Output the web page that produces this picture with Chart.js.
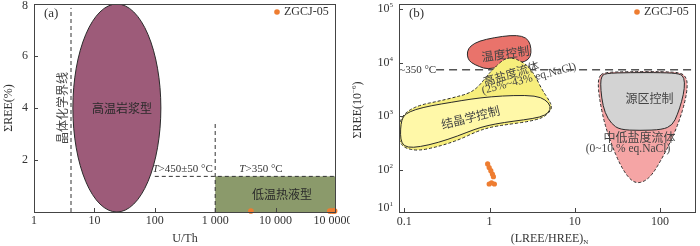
<!DOCTYPE html>
<html>
<head>
<meta charset="utf-8">
<script src="https://cdn.jsdelivr.net/npm/chart.js@4"></script>
<style>
  html, body { margin: 0; padding: 0; background: #fff; }
  #wrap { position: relative; width: 700px; height: 246px; }
  .panel { position: absolute; top: 0; width: 350px; height: 246px; }
</style>
</head>
<body>
<div id="wrap">
  <div class="panel" style="left:0"><canvas id="chartA" width="350" height="246"></canvas></div>
  <div class="panel" style="left:350px"><canvas id="chartB" width="350" height="246"></canvas></div>
</div>
<script>
// ---------- panel (a): U/Th vs ΣREE(%) ----------
const uThTicks = [1, 10, 100, 1000, 10000, 100000];
const uThLabels = ['1', '10', '100', '1 000', '10 000', '10 0000'];
const reeTicksA = [2, 4, 6, 8];
const sampleUth = [3900, 79000, 85000, 91000, 95000];
const sampleReeA = [0.04, 0.04, 0.04, 0.04, 0.04];
const magmaUth = [4.4, 126];        // high-temp magmatic ellipse extent
const magmaRee = [0, 8];
const hydroUth = [1000, 100000];    // low-temp hydrothermal box
const hydroRee = [0, 1.37];
const crystalLineUth = 4.1;
const crystalLineRee = [0, 7.85];
const line1000Ree = [0, 3.47];
const tempStepUth = [100, 100000];

// ---------- panel (b): (LREE/HREE)N vs ΣREE(10^-6) ----------
const lhTicks = [0.1, 1, 10, 100];
const lhLabels = ['0.1', '1', '10', '100'];
const reeTicksB = [16.2, 100, 1000, 10000, 100000];
const reeExpB = ['1', '2', '3', '4', '5'];
const sampleLH = [0.95, 0.99, 1.035, 1.08, 1.11, 0.99, 1.055, 1.14];
const sampleReeB = [128, 110, 96, 83, 74, 54, 57, 54];
const tempLineRee = 7400;
const tempLineLH = [0.236, 264];

const tempControl = [[0.555, 12020], [0.545, 16000], [0.596, 20650], [0.758, 25500], [1.13, 29400],
  [1.77, 32500], [2.42, 31600], [2.89, 26300], [3.08, 18400], [3.03, 12900], [2.64, 10400],
  [1.94, 9720], [1.355, 8430], [0.948, 7530], [0.758, 8430], [0.607, 10000]];
const highSalinity = [[1.62, 12380], [1.355, 10430], [1.13, 7850], [0.99, 6340], [0.83, 4450],
  [0.694, 3250], [0.555, 2630], [0.388, 2250], [0.249, 1900], [0.159, 1645], [0.116, 1330],
  [0.0948, 1000], [0.0867, 681], [0.0851, 457], [0.0891, 321], [0.102, 252], [0.146, 225],
  [0.249, 270], [0.425, 354], [0.725, 527], [1.036, 625], [1.62, 701], [2.77, 785], [4.25, 931],
  [5.16, 1240], [5.40, 1530], [4.94, 2040], [4.13, 3120], [3.46, 5510], [2.89, 8430],
  [2.31, 10740], [1.94, 12020]];
const crystalControl = [[0.1037, 1104], [0.133, 1330], [0.208, 1578], [0.355, 1815], [0.607, 2094],
  [1.036, 2313], [1.94, 2450], [3.46, 2415], [4.52, 2040], [5.26, 1530], [4.94, 1153],
  [3.95, 958], [2.53, 855], [1.48, 764], [0.948, 671], [0.663, 566], [0.425, 427], [0.249, 321],
  [0.152, 267], [0.109, 259], [0.0931, 308], [0.0898, 457], [0.0915, 721], [0.0957, 931]];
const lowSalinity = [[21.5, 6620], [44, 6810], [107, 6810], [175, 6530], [204, 5270], [210, 3590],
  [197, 1900], [168, 807], [134, 344], [107, 169], [82.2, 83.2], [65.8, 60], [51.7, 55.8],
  [42.1, 72.1], [33.7, 127], [26.9, 299], [22.5, 701], [20, 1645], [18.8, 3350], [19, 5270]];
const sourceControl = [[22.5, 6340], [44, 6530], [107, 6530], [171, 6250], [192, 5270], [194, 3350],
  [180, 1900], [160, 1074], [140, 681], [107, 560], [57.5, 540], [33.7, 560], [26.9, 721],
  [22.5, 1153], [20.6, 2190], [20, 4140], [20.6, 5510]];

const SERIF = '"Liberation Serif", "DejaVu Serif", serif';
const CJK = '"Noto Sans CJK SC", sans-serif';
const DOT = '#ee7d31';
const INK = '#333';

// draw text made of pieces (for italic T, subscripts, superscripts)
function richText(ctx, x, y, parts, align) {
  let w = 0;
  parts.forEach(p => { ctx.font = p.f; p.w = ctx.measureText(p.t).width; w += p.w; });
  let cx = align === 'center' ? x - w / 2 : align === 'right' ? x - w : x;
  ctx.textAlign = 'left';
  ctx.textBaseline = 'middle';
  parts.forEach(p => { ctx.font = p.f; ctx.fillText(p.t, cx, y + (p.dy || 0)); cx += p.w; });
}

function label(ctx, text, x, y, font, angle) {
  ctx.save();
  ctx.translate(x, y);
  ctx.rotate((angle || 0) * Math.PI / 180);
  ctx.font = font;
  ctx.textAlign = 'center';
  ctx.textBaseline = 'middle';
  ctx.fillText(text, 0, 0);
  ctx.restore();
}

function smoothShape(ctx, pts) {
  const n = pts.length;
  const mid = (p, q) => [(p[0] + q[0]) / 2, (p[1] + q[1]) / 2];
  const m0 = mid(pts[n - 1], pts[0]);
  ctx.beginPath();
  ctx.moveTo(m0[0], m0[1]);
  for (let i = 0; i < n; i++) {
    const m = mid(pts[i], pts[(i + 1) % n]);
    ctx.quadraticCurveTo(pts[i][0], pts[i][1], m[0], m[1]);
  }
  ctx.closePath();
}

function drawRegion(chart, data, fill, dashed) {
  const { ctx, scales: { x, y } } = chart;
  const pts = data.map(d => [x.getPixelForValue(d[0]), y.getPixelForValue(d[1])]);
  smoothShape(ctx, pts);
  ctx.fillStyle = fill;
  ctx.fill();
  ctx.setLineDash(dashed ? [3, 2] : []);
  ctx.strokeStyle = '#2a2a2a';
  ctx.lineWidth = 1;
  ctx.stroke();
  ctx.setLineDash([]);
}

function seg(ctx, x1, y1, x2, y2) {
  ctx.beginPath();
  ctx.moveTo(x1, y1);
  ctx.lineTo(x2, y2);
  ctx.stroke();
}

function frameAndLegend(chart, letter) {
  const { ctx, chartArea: a } = chart;
  ctx.save();
  ctx.strokeStyle = '#444';
  ctx.lineWidth = 1;
  ctx.strokeRect(a.left + 0.5, a.top + 0.5, a.right - a.left - 1, a.bottom - a.top);
  ctx.fillStyle = INK;
  richText(ctx, a.left + 10, 14, [{ t: letter, f: '13px ' + SERIF }], 'left');
  // legend
  ctx.fillStyle = DOT;
  ctx.beginPath();
  ctx.arc(a.right - 59, 12, 2.8, 0, Math.PI * 2);
  ctx.fill();
  ctx.fillStyle = INK;
  richText(ctx, a.right - 52, 12, [{ t: chart.data.datasets[0].label, f: '12px ' + SERIF }], 'left');
  ctx.restore();
}

// ---------- panel (a) plugin ----------
const panelA = {
  id: 'panelA',
  beforeDatasetsDraw(chart) {
    const { ctx, chartArea: a, scales: { x, y } } = chart;
    const px = v => x.getPixelForValue(v), py = v => y.getPixelForValue(v);
    ctx.save();
    ctx.beginPath();
    ctx.rect(a.left, a.top, a.right - a.left, a.bottom - a.top);
    ctx.clip();

    ctx.fillStyle = '#8b9a6b';
    ctx.fillRect(px(hydroUth[0]), py(hydroRee[1]), px(hydroUth[1]) - px(hydroUth[0]), py(hydroRee[0]) - py(hydroRee[1]));

    const ex0 = px(magmaUth[0]), ex1 = px(magmaUth[1]);
    const ey0 = py(magmaRee[0]), ey1 = py(magmaRee[1]);
    ctx.beginPath();
    ctx.ellipse((ex0 + ex1) / 2, (ey0 + ey1) / 2, (ex1 - ex0) / 2, (ey0 - ey1) / 2, 0, 0, Math.PI * 2);
    ctx.fillStyle = '#9d5b79';
    ctx.fill();
    ctx.strokeStyle = '#2a2a2a';
    ctx.lineWidth = 1;
    ctx.stroke();

    ctx.setLineDash([4, 3]);
    ctx.strokeStyle = '#333';
    seg(ctx, px(crystalLineUth), py(crystalLineRee[0]), px(crystalLineUth), py(crystalLineRee[1]));
    seg(ctx, px(1000), py(line1000Ree[0]), px(1000), py(line1000Ree[1]));
    seg(ctx, px(tempStepUth[0]), py(hydroRee[1]), px(tempStepUth[1]), py(hydroRee[1]));
    ctx.setLineDash([]);

    ctx.fillStyle = '#2a2a2a';
    label(ctx, '高温岩浆型', px(28.6), py(4.0), '12px ' + CJK);
    label(ctx, '低温热液型', px(12800), py(0.69), '12px ' + CJK);
    ctx.fillStyle = '#444';
    label(ctx, '晶体化学界线', px(2.91), py(4.0), '12px ' + CJK, -90);
    ctx.fillStyle = INK;
    const it = 'italic 11px ' + SERIF, rm = '11px ' + SERIF;
    richText(ctx, px(288), py(1.64), [{ t: 'T', f: it }, { t: '>450±50 °C', f: rm }], 'center');
    richText(ctx, px(5730), py(1.64), [{ t: 'T', f: it }, { t: '>350 °C', f: rm }], 'center');
    ctx.restore();
  },
  afterDraw(chart) {
    const { ctx, chartArea: a, scales: { x, y } } = chart;
    ctx.save();
    ctx.strokeStyle = '#444';
    ctx.lineWidth = 1;
    uThTicks.slice(1, -1).forEach(v => { const p = Math.round(x.getPixelForValue(v)) + 0.5; seg(ctx, p, a.bottom, p, a.bottom - 4); });
    reeTicksA.slice(0, -1).forEach(v => { const p = Math.round(y.getPixelForValue(v)) + 0.5; seg(ctx, a.left, p, a.left + 4, p); });
    ctx.fillStyle = INK;
    uThTicks.forEach((v, i) => richText(ctx, Math.min(x.getPixelForValue(v), 333), a.bottom + 9, [{ t: uThLabels[i], f: '12px ' + SERIF }], 'center'));
    reeTicksA.forEach(v => richText(ctx, a.left - 6, Math.max(y.getPixelForValue(v), 6), [{ t: String(v), f: '12px ' + SERIF }], 'right'));
    richText(ctx, (a.left + a.right) / 2, 239, [{ t: 'U/Th', f: '12px ' + SERIF }], 'center');
    ctx.translate(9, 108);
    ctx.rotate(-Math.PI / 2);
    richText(ctx, 0, 0, [{ t: 'ΣREE(%)', f: '12px ' + SERIF }], 'center');
    ctx.restore();
    frameAndLegend(chart, '(a)');
  }
};

// ---------- panel (b) plugin ----------
const panelB = {
  id: 'panelB',
  beforeDatasetsDraw(chart) {
    const { ctx, chartArea: a, scales: { x, y } } = chart;
    const px = v => x.getPixelForValue(v), py = v => y.getPixelForValue(v);
    ctx.save();
    ctx.beginPath();
    ctx.rect(a.left, a.top, a.right - a.left, a.bottom - a.top);
    ctx.clip();

    ctx.setLineDash([8, 5]);
    ctx.strokeStyle = '#555';
    ctx.lineWidth = 1.4;
    seg(ctx, px(tempLineLH[0]), py(tempLineRee), px(tempLineLH[1]), py(tempLineRee));
    ctx.setLineDash([]);
    ctx.fillStyle = INK;
    label(ctx, '~350 °C', px(0.1435), py(tempLineRee), '11px ' + SERIF);

    drawRegion(chart, tempControl, '#e9736b', false);
    drawRegion(chart, highSalinity, '#f7ee7c', true);
    drawRegion(chart, crystalControl, '#fff8a8', false);
    drawRegion(chart, lowSalinity, '#f5a5a5', true);
    drawRegion(chart, sourceControl, '#d3d3d3', false);

    ctx.fillStyle = '#444';
    label(ctx, '温度控制', px(1.535), py(14700), '12px ' + CJK, -8);
    label(ctx, '高盐度流体', px(1.80), py(6340), '11.5px ' + CJK, -17);
    label(ctx, '(25%~43% eq.NaCl)', px(2.90), py(4990), '11.5px ' + SERIF, -14.5);
    label(ctx, '结晶学控制', px(0.597), py(958), '12px ' + CJK, -14);
    label(ctx, '源区控制', px(75.1), py(2180), '12px ' + CJK);
    label(ctx, '中低盐度流体', px(57.5), py(396), '12px ' + CJK);
    label(ctx, '(0~10 % eq.NaCl)', px(42.1), py(242), '11.5px ' + SERIF);
    ctx.restore();
  },
  afterDraw(chart) {
    const { ctx, chartArea: a, scales: { x, y } } = chart;
    ctx.save();
    ctx.strokeStyle = '#444';
    ctx.lineWidth = 1;
    lhTicks.forEach(v => { const p = Math.round(x.getPixelForValue(v)) + 0.5; seg(ctx, p, a.bottom, p, a.bottom - 4); });
    reeTicksB.slice(1).forEach(v => { const p = Math.round(y.getPixelForValue(v)) + 0.5; seg(ctx, a.left, p, a.left + 4, p); });
    ctx.fillStyle = INK;
    lhTicks.forEach((v, i) => richText(ctx, x.getPixelForValue(v), a.bottom + 10, [{ t: lhLabels[i], f: '12px ' + SERIF }], 'center'));
    reeTicksB.forEach((v, i) => {
      const yy = Math.min(Math.max(y.getPixelForValue(v), 7), 208);
      richText(ctx, a.left - 6, yy, [{ t: '10', f: '12px ' + SERIF }, { t: reeExpB[i], f: '7px ' + SERIF, dy: -4 }], 'right');
    });
    richText(ctx, (a.left + a.right) / 2 + 2, 239,
      [{ t: '(LREE/HREE)', f: '12px ' + SERIF }, { t: 'N', f: '7px ' + SERIF, dy: 3 }], 'center');
    ctx.translate(8, 110);
    ctx.rotate(-Math.PI / 2);
    richText(ctx, 0, 0, [{ t: 'ΣREE(10', f: '12px ' + SERIF }, { t: '−6', f: '7px ' + SERIF, dy: -4 }, { t: ')', f: '12px ' + SERIF }], 'center');
    ctx.restore();
    frameAndLegend(chart, '(b)');
  }
};

function baseOptions(yWidth, rightPad) {
  return {
    responsive: false,
    animation: false,
    events: [],
    layout: { padding: { top: 2, right: rightPad, bottom: 0, left: 0 } },
    plugins: { legend: { display: false }, tooltip: { enabled: false } },
    scales: {
      x: {
        grid: { display: false }, border: { display: false }, ticks: { display: false },
        afterFit: s => { s.height = 34; }
      },
      y: {
        grid: { display: false }, border: { display: false }, ticks: { display: false },
        afterFit: s => { s.width = yWidth; }
      }
    }
  };
}

const optsA = baseOptions(34, 14);
Object.assign(optsA.scales.x, { type: 'logarithmic', min: 1, max: 100000 });
Object.assign(optsA.scales.y, { type: 'linear', min: 0, max: 8 });

new Chart(document.getElementById('chartA'), {
  type: 'scatter',
  data: {
    datasets: [{
      label: 'ZGCJ-05',
      data: sampleUth.map((v, i) => ({ x: v, y: sampleReeA[i] })),
      backgroundColor: DOT, borderWidth: 0, pointRadius: 2.8, clip: false
    }]
  },
  options: optsA,
  plugins: [panelA]
});

const optsB = baseOptions(49, 1);
Object.assign(optsB.scales.x, { type: 'logarithmic', min: 0.0867, max: 264 });
Object.assign(optsB.scales.y, { type: 'logarithmic', min: 16.2, max: 125000 });

new Chart(document.getElementById('chartB'), {
  type: 'scatter',
  data: {
    datasets: [{
      label: 'ZGCJ-05',
      data: sampleLH.map((v, i) => ({ x: v, y: sampleReeB[i] })),
      backgroundColor: DOT, borderWidth: 0, pointRadius: 2.6
    }]
  },
  options: optsB,
  plugins: [panelB]
});
</script>
</body>
</html>
